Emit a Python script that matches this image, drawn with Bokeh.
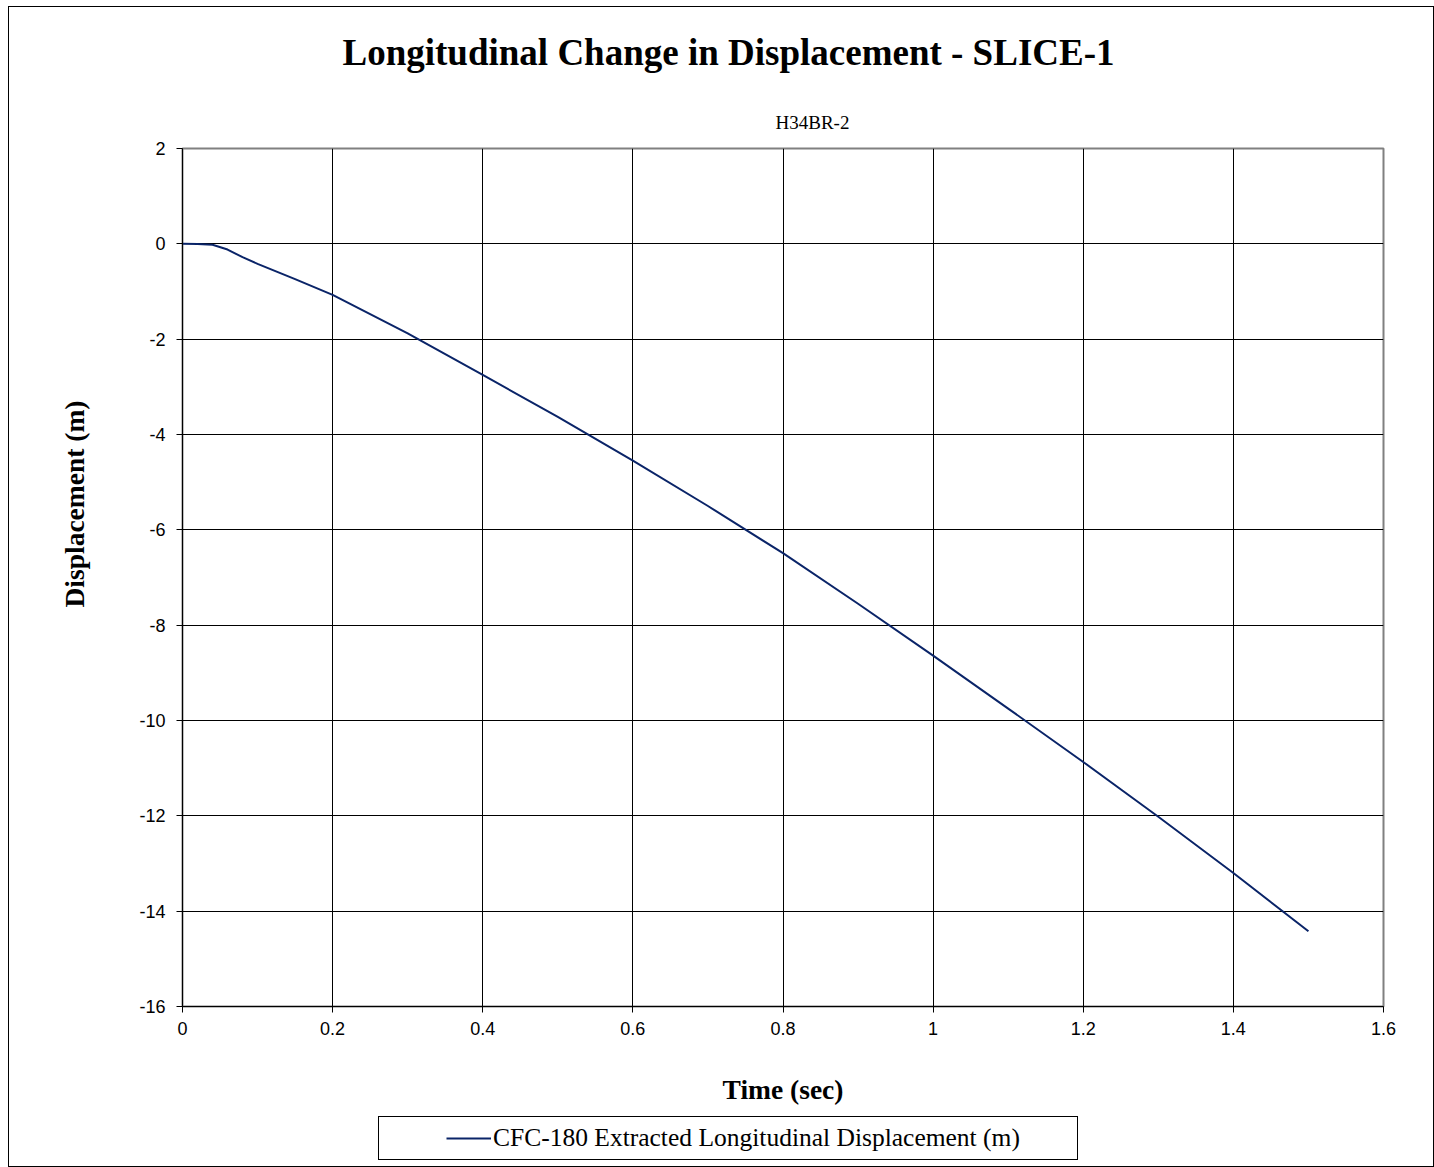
from bokeh.plotting import figure
from bokeh.layouts import column
from bokeh.models import Title, Legend, LegendItem, FixedTicker, ColumnDataSource
from bokeh.embed import file_html
from bokeh.resources import INLINE

# Data
time_s = [0.0, 0.02, 0.04, 0.06, 0.08, 0.10, 0.15, 0.20, 0.30, 0.40, 0.50, 0.60,
          0.70, 0.80, 0.90, 1.00, 1.10, 1.20, 1.30, 1.40, 1.50]
displacement_m = [0.0, -0.005, -0.02, -0.12, -0.28, -0.42, -0.74, -1.07, -1.88, -2.75,
                  -3.63, -4.55, -5.50, -6.49, -7.55, -8.64, -9.75, -10.87, -12.02,
                  -13.20, -14.42]

x_ticks = [0, 0.2, 0.4, 0.6, 0.8, 1.0, 1.2, 1.4, 1.6]
x_tick_labels = ["0", "0.2", "0.4", "0.6", "0.8", "1", "1.2", "1.4", "1.6"]
y_ticks = [2, 0, -2, -4, -6, -8, -10, -12, -14, -16]
y_tick_labels = ["2", "0", "-2", "-4", "-6", "-8", "-10", "-12", "-14", "-16"]

main_title = "Longitudinal Change in Displacement - SLICE-1"
sub_title = "H34BR-2"
x_label = "Time (sec)"
y_label = "Displacement (m)"
series_name = "CFC-180 Extracted Longitudinal Displacement (m)"

SERIF = "Liberation Serif"
SANS = "Liberation Sans"
LINE_COLOR = "#0a2468"
AXIS_TITLE_SIZE = "27.5px"

p = figure(width=1424, height=1106, output_backend="svg", toolbar_location=None,
           title=None, x_range=(0, 1.6), y_range=(-16, 2),
           min_border_left=173, min_border_right=50, min_border_top=141,
           min_border_bottom=107)

p.add_layout(Title(text=sub_title, text_font=SERIF, text_font_size="19px",
                   text_font_style="normal", text_color="black",
                   align="left", offset=593, standoff=31), "above")
p.add_layout(Title(text=main_title, text_font=SERIF, text_font_size="37px",
                   text_font_style="bold", text_color="black",
                   align="left", offset=160, standoff=44), "above")

src = ColumnDataSource(data=dict(t=time_s, d=displacement_m))
r = p.line("t", "d", source=src, line_color=LINE_COLOR, line_width=2)

p.xaxis.ticker = FixedTicker(ticks=x_ticks)
p.yaxis.ticker = FixedTicker(ticks=y_ticks)
p.xaxis.major_label_overrides = {t: l for t, l in zip(x_ticks, x_tick_labels)}
p.yaxis.major_label_overrides = {t: l for t, l in zip(y_ticks, y_tick_labels)}

for ax in (p.xaxis[0], p.yaxis[0]):
    ax.axis_line_color = "black"
    ax.major_tick_line_color = "black"
    ax.major_tick_out = 6
    ax.major_tick_in = 0
    ax.minor_tick_line_color = None
    ax.major_label_text_font = SANS
    ax.major_label_text_font_size = "18px"
    ax.major_label_text_color = "black"
    ax.axis_label_text_font = SERIF
    ax.axis_label_text_font_size = AXIS_TITLE_SIZE
    ax.axis_label_text_font_style = "bold"
    ax.axis_label_text_color = "black"

p.xaxis.axis_label = x_label
p.xaxis.major_label_standoff = 9
p.xaxis.axis_label_standoff = 36
p.yaxis.major_label_standoff = 11

# y-axis title, placed like the reference (above the frame's middle)
p.add_layout(Title(text=y_label, text_font=SERIF, text_font_size=AXIS_TITLE_SIZE,
                   text_font_style="bold", text_color="black",
                   align="left", offset=399, standoff=94), "left")

p.xgrid.grid_line_color = "black"
p.ygrid.grid_line_color = "black"

p.outline_line_color = "#808080"
p.outline_line_width = 2
p.background_fill_color = "white"
p.border_fill_color = "white"

# Legend strip below the chart (its own line renderer sits outside the view)
q = figure(width=1424, height=53, output_backend="svg", toolbar_location=None,
           x_axis_type=None, y_axis_type=None, x_range=(2, 3), y_range=(1, 2),
           min_border=0, min_border_left=0, min_border_right=0,
           min_border_top=0, min_border_bottom=0)
q.outline_line_color = None
q.background_fill_color = "white"
q.border_fill_color = "white"
lr = q.line("t", "d", source=src, line_color=LINE_COLOR, line_width=2)

PAD = 6
BOX_W = 699
GLYPH_W = 45
has_title_loc = "title_location" in Legend.properties()
legend_kwargs = dict(items=[LegendItem(label=series_name, renderers=[lr])],
                     location=(196, 6), orientation="vertical",
                     border_line_color="black", border_line_width=1,
                     border_line_alpha=1.0,
                     padding=PAD, margin=0, spacing=0,
                     glyph_width=GLYPH_W, glyph_height=20, label_standoff=2,
                     label_text_font=SERIF, label_text_font_size="25.5px",
                     label_text_color="black", background_fill_alpha=1.0)
if has_title_loc:
    legend_kwargs.update(title=" ", title_location="left", title_standoff=50,
                         title_text_font_size="10px")
    legend_kwargs["label_width"] = BOX_W - (68 + GLYPH_W + 2) - PAD
else:
    legend_kwargs["label_width"] = BOX_W - (PAD + GLYPH_W + 2) - PAD
legend = Legend(**legend_kwargs)
q.add_layout(legend, "center")

layout = column(p, q, spacing=0,
                styles={"border": "1px solid black", "margin-left": "8px",
                        "margin-top": "6px"})

open("out.html", "w").write(file_html(layout, INLINE))
